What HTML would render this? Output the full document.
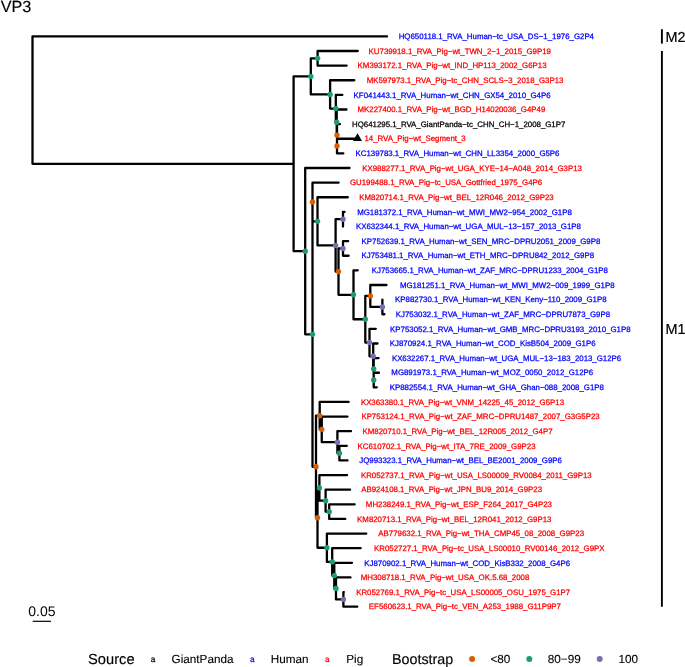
<!DOCTYPE html>
<html lang="en">
<head>
<meta charset="utf-8">
<title>VP3</title>
<style>
html,body{margin:0;padding:0;background:#fff}
svg{display:block}
text{font-family:"Liberation Sans",Arial,Helvetica,sans-serif;text-rendering:geometricPrecision}
.t{font-size:7.865px}
.lt{font-size:14.67px;stroke:#000;stroke-width:0.15px}
.ll{font-size:11.73px;stroke:#000;stroke-width:0.12px}
.k{font-size:8.3px;text-anchor:middle;stroke-width:0.22px}
</style>
</head>
<body>
<svg width="685" height="667" viewBox="0 0 685 667">
<rect width="685" height="667" fill="#fff"/>
<text x="0.7" y="12.05" font-size="16.2" stroke="#000" stroke-width="0.15">VP3</text>
<g fill="none" stroke="#000" stroke-width="2.3" stroke-linejoin="round" stroke-linecap="round">
<path d="M317.60 58.33V51.02H357.80
M317.60 58.33V65.65H346.60
M337.00 146.07V138.76H357.30
M337.00 146.07V153.38H343.30
M337.00 135.11V124.14H339.90
M337.00 135.11V146.07H337.00
M336.70 122.31V109.51H346.50
M336.70 122.31V135.11H337.00
M335.80 108.60V94.89H342.30
M335.80 108.60V122.31H336.70
M330.10 94.44V80.27H354.30
M330.10 94.44V108.60H335.80
M310.80 76.38V58.33H317.60
M310.80 76.38V94.44H330.10
M343.00 219.19V211.88H344.50
M343.00 219.19V226.50H343.00
M343.00 248.43V241.12H348.20
M343.00 248.43V255.75H348.60
M382.40 306.93V299.61H382.40
M382.40 306.93V314.24H384.40
M370.30 295.96V284.99H386.50
M370.30 295.96V306.93H382.40
M373.70 380.04V372.73H379.00
M373.70 380.04V387.35H376.80
M373.70 369.07V358.11H378.60
M373.70 369.07V380.04H373.70
M373.20 356.28V343.48H377.50
M373.20 356.28V369.07H373.70
M369.50 342.57V328.86H375.80
M369.50 342.57V356.28H373.20
M365.30 319.26V295.96H370.30
M365.30 319.26V342.57H369.50
M353.50 294.82V270.37H357.80
M353.50 294.82V319.26H365.30
M338.50 271.62V248.43H343.00
M338.50 271.62V294.82H353.50
M335.60 245.41V219.19H343.00
M335.60 245.41V271.62H338.50
M317.50 221.33V197.25H347.80
M317.50 221.33V245.41H335.60
M312.50 201.98V182.63H338.60
M312.50 201.98V221.33H317.50
M339.40 453.16V445.84H346.80
M339.40 453.16V460.47H347.50
M337.40 442.19V431.22H351.00
M337.40 442.19V453.16H339.40
M321.75 429.39V416.60H347.50
M321.75 429.39V442.19H337.40
M319.70 415.68V401.97H348.60
M319.70 415.68V429.39H321.75
M329.20 511.65V504.34H354.70
M329.20 511.65V518.96H345.30
M325.60 500.68V489.71H350.10
M325.60 500.68V511.65H329.20
M319.40 487.89V475.09H347.10
M319.40 487.89V500.68H325.60
M343.40 599.39V592.07H343.90
M343.40 599.39V606.70H357.30
M336.00 588.42V577.45H350.50
M336.00 588.42V599.39H343.40
M334.30 575.62V562.83H352.00
M334.30 575.62V588.42H336.00
M332.20 561.91V548.20H360.60
M332.20 561.91V575.62H334.30
M326.90 547.75V533.58H366.30
M326.90 547.75V561.91H332.20
M317.50 517.82V487.89H319.40
M317.50 517.82V547.75H326.90
M316.00 466.75V415.68H319.70
M316.00 466.75V517.82H317.50
M312.50 334.37V201.98H312.50
M312.50 334.37V466.75H316.00
M305.20 251.19V168.01H349.50
M305.20 251.19V334.37H312.50
M293.60 163.79V76.38H310.80
M293.60 163.79V251.19H305.20
M32.50 100.09V36.40H387.00
M32.50 100.09V163.79H293.60"/>
</g>
<g>
<circle cx="317.6" cy="58.33" r="2.7" fill="#1B9E77"/>
<circle cx="337" cy="146.07" r="2.7" fill="#D95F02"/>
<circle cx="337" cy="135.11" r="2.7" fill="#D95F02"/>
<circle cx="336.7" cy="122.31" r="2.7" fill="#1B9E77"/>
<circle cx="335.8" cy="108.6" r="2.7" fill="#1B9E77"/>
<circle cx="330.1" cy="94.44" r="2.7" fill="#1B9E77"/>
<circle cx="310.8" cy="76.38" r="2.7" fill="#1B9E77"/>
<circle cx="343" cy="219.19" r="2.7" fill="#7570B3"/>
<circle cx="343" cy="248.43" r="2.7" fill="#7570B3"/>
<circle cx="382.4" cy="306.93" r="2.7" fill="#7570B3"/>
<circle cx="370.3" cy="295.96" r="2.7" fill="#D95F02"/>
<circle cx="373.7" cy="380.04" r="2.7" fill="#1B9E77"/>
<circle cx="373.7" cy="369.07" r="2.7" fill="#1B9E77"/>
<circle cx="373.2" cy="356.28" r="2.7" fill="#7570B3"/>
<circle cx="369.5" cy="342.57" r="2.7" fill="#7570B3"/>
<circle cx="365.3" cy="319.26" r="2.7" fill="#1B9E77"/>
<circle cx="353.5" cy="294.82" r="2.7" fill="#1B9E77"/>
<circle cx="338.5" cy="271.62" r="2.7" fill="#D95F02"/>
<circle cx="335.6" cy="245.41" r="2.7" fill="#7570B3"/>
<circle cx="317.5" cy="221.33" r="2.7" fill="#1B9E77"/>
<circle cx="312.5" cy="201.98" r="2.7" fill="#D95F02"/>
<circle cx="339.4" cy="453.16" r="2.7" fill="#1B9E77"/>
<circle cx="337.4" cy="442.19" r="2.7" fill="#7570B3"/>
<circle cx="321.75" cy="429.39" r="2.7" fill="#D95F02"/>
<circle cx="319.7" cy="415.68" r="2.7" fill="#D95F02"/>
<circle cx="329.2" cy="511.65" r="2.7" fill="#1B9E77"/>
<circle cx="325.6" cy="500.68" r="2.7" fill="#1B9E77"/>
<circle cx="319.4" cy="487.89" r="2.7" fill="#1B9E77"/>
<circle cx="343.4" cy="599.39" r="2.7" fill="#7570B3"/>
<circle cx="336" cy="588.42" r="2.7" fill="#1B9E77"/>
<circle cx="334.3" cy="575.62" r="2.7" fill="#1B9E77"/>
<circle cx="332.2" cy="561.91" r="2.7" fill="#1B9E77"/>
<circle cx="326.9" cy="547.75" r="2.7" fill="#1B9E77"/>
<circle cx="317.5" cy="517.82" r="2.7" fill="#D95F02"/>
<circle cx="316" cy="466.75" r="2.7" fill="#D95F02"/>
<circle cx="312.5" cy="334.37" r="2.7" fill="#1B9E77"/>
<circle cx="305.2" cy="251.19" r="2.7" fill="#1B9E77"/>
</g>
<path d="M357.5 133.26L362 141.11H353Z" fill="#000"/>
<g class="t" stroke-width="0.25">
<text x="398.69" y="39.12" fill="#0000FF" stroke="#0000FF">HQ650118.1_RVA_Human−tc_USA_DS−1_1976_G2P4</text>
<text x="368.6" y="53.74" fill="#FF0000" stroke="#FF0000">KU739918.1_RVA_Pig−wt_TWN_2−1_2015_G9P19</text>
<text x="357.6" y="68.37" fill="#FF0000" stroke="#FF0000">KM393172.1_RVA_Pig−wt_IND_HP113_2002_G6P13</text>
<text x="366.63" y="82.99" fill="#FF0000" stroke="#FF0000">MK597973.1_RVA_Pig−tc_CHN_SCLS−3_2018_G3P13</text>
<text x="353.6" y="97.61" fill="#0000FF" stroke="#0000FF">KF041443.1_RVA_Human−wt_CHN_GX54_2010_G4P6</text>
<text x="357.53" y="112.23" fill="#FF0000" stroke="#FF0000">MK227400.1_RVA_Pig−wt_BGD_H14020036_G4P49</text>
<text x="351.99" y="126.86" fill="#000000" stroke="#000000">HQ641295.1_RVA_GiantPanda−tc_CHN_CH−1_2008_G1P7</text>
<text x="364.41" y="141.48" fill="#FF0000" stroke="#FF0000">14_RVA_Pig−wt_Segment_3</text>
<text x="355.5" y="156.1" fill="#0000FF" stroke="#0000FF">KC139783.1_RVA_Human−wt_CHN_LL3354_2000_G5P6</text>
<text x="362.2" y="170.73" fill="#FF0000" stroke="#FF0000">KX988277.1_RVA_Pig−wt_UGA_KYE−14−A048_2014_G3P13</text>
<text x="349.96" y="185.35" fill="#FF0000" stroke="#FF0000">GU199488.1_RVA_Pig−tc_USA_Gottfried_1975_G4P6</text>
<text x="359.3" y="199.97" fill="#FF0000" stroke="#FF0000">KM820714.1_RVA_Pig−wt_BEL_12R046_2012_G9P23</text>
<text x="357.13" y="214.6" fill="#0000FF" stroke="#0000FF">MG181372.1_RVA_Human−wt_MWI_MW2−954_2002_G1P8</text>
<text x="356" y="229.22" fill="#0000FF" stroke="#0000FF">KX632344.1_RVA_Human−wt_UGA_MUL−13−157_2013_G1P8</text>
<text x="361.6" y="243.84" fill="#0000FF" stroke="#0000FF">KP752639.1_RVA_Human−wt_SEN_MRC−DPRU2051_2009_G9P8</text>
<text x="361.5" y="258.47" fill="#0000FF" stroke="#0000FF">KJ753481.1_RVA_Human−wt_ETH_MRC−DPRU842_2012_G9P8</text>
<text x="371.8" y="273.09" fill="#0000FF" stroke="#0000FF">KJ753665.1_RVA_Human−wt_ZAF_MRC−DPRU1233_2004_G1P8</text>
<text x="399.93" y="287.71" fill="#0000FF" stroke="#0000FF">MG181251.1_RVA_Human−wt_MWI_MW2−009_1999_G1P8</text>
<text x="395.1" y="302.33" fill="#0000FF" stroke="#0000FF">KP882730.1_RVA_Human−wt_KEN_Keny−110_2009_G1P8</text>
<text x="395.8" y="316.96" fill="#0000FF" stroke="#0000FF">KJ753032.1_RVA_Human−wt_ZAF_MRC−DPRU7873_G9P8</text>
<text x="390.1" y="331.58" fill="#0000FF" stroke="#0000FF">KP753052.1_RVA_Human−wt_GMB_MRC−DPRU3193_2010_G1P8</text>
<text x="389.8" y="346.2" fill="#0000FF" stroke="#0000FF">KJ870924.1_RVA_Human−wt_COD_KisB504_2009_G1P6</text>
<text x="391.9" y="360.83" fill="#0000FF" stroke="#0000FF">KX632267.1_RVA_Human−wt_UGA_MUL−13−183_2013_G12P6</text>
<text x="391.33" y="375.45" fill="#0000FF" stroke="#0000FF">MG891973.1_RVA_Human−wt_MOZ_0050_2012_G12P6</text>
<text x="389.7" y="390.07" fill="#0000FF" stroke="#0000FF">KP882554.1_RVA_Human−wt_GHA_Ghan−088_2008_G1P8</text>
<text x="360.9" y="404.69" fill="#FF0000" stroke="#FF0000">KX363380.1_RVA_Pig−wt_VNM_14225_45_2012_G5P13</text>
<text x="361.4" y="419.32" fill="#FF0000" stroke="#FF0000">KP753124.1_RVA_Pig−wt_ZAF_MRC−DPRU1487_2007_G3G5P23</text>
<text x="362.5" y="433.94" fill="#FF0000" stroke="#FF0000">KM820710.1_RVA_Pig−wt_BEL_12R005_2012_G4P7</text>
<text x="357.5" y="448.56" fill="#FF0000" stroke="#FF0000">KC610702.1_RVA_Pig−wt_ITA_7RE_2009_G9P23</text>
<text x="359.24" y="463.19" fill="#0000FF" stroke="#0000FF">JQ993323.1_RVA_Human−wt_BEL_BE2001_2009_G9P6</text>
<text x="360.9" y="477.81" fill="#FF0000" stroke="#FF0000">KR052737.1_RVA_Pig−wt_USA_LS00009_RV0084_2011_G9P13</text>
<text x="361.2" y="492.43" fill="#FF0000" stroke="#FF0000">AB924108.1_RVA_Pig−wt_JPN_BU9_2014_G9P23</text>
<text x="365.83" y="507.06" fill="#FF0000" stroke="#FF0000">MH238249.1_RVA_Pig−wt_ESP_F264_2017_G4P23</text>
<text x="357.1" y="521.68" fill="#FF0000" stroke="#FF0000">KM820713.1_RVA_Pig−wt_BEL_12R041_2012_G9P13</text>
<text x="378.3" y="536.3" fill="#FF0000" stroke="#FF0000">AB779632.1_RVA_Pig−wt_THA_CMP45_08_2008_G9P23</text>
<text x="374" y="550.92" fill="#FF0000" stroke="#FF0000">KR052727.1_RVA_Pig−tc_USA_LS00010_RV00146_2012_G9PX</text>
<text x="364.3" y="565.55" fill="#0000FF" stroke="#0000FF">KJ870902.1_RVA_Human−wt_COD_KisB332_2008_G4P6</text>
<text x="360.73" y="580.17" fill="#FF0000" stroke="#FF0000">MH308718.1_RVA_Pig−wt_USA_OK.5.68_2008</text>
<text x="356.2" y="594.79" fill="#FF0000" stroke="#FF0000">KR052769.1_RVA_Pig−tc_USA_LS00005_OSU_1975_G1P7</text>
<text x="368.87" y="609.42" fill="#FF0000" stroke="#FF0000">EF560623.1_RVA_Pig−tc_VEN_A253_1988_G11P9P7</text>
</g>
<g stroke="#000" stroke-width="1.9">
<line x1="661.9" x2="661.9" y1="29.2" y2="43.6"/>
<line x1="661.9" x2="661.9" y1="51.02" y2="606.7"/>
</g>
<text x="665.6" y="41.8" font-size="14.4" stroke="#000" stroke-width="0.2">M2</text>
<text x="665.6" y="334.26" font-size="14.4" stroke="#000" stroke-width="0.2">M1</text>
<line x1="32.7" x2="51" y1="621.3" y2="621.3" stroke="#000" stroke-width="1.2"/>
<text x="41.85" y="615.7" font-size="14" text-anchor="middle">0.05</text>
<text class="lt" x="88.1" y="663.5">Source</text>
<text class="k" x="153" y="662" fill="#000" stroke="#000">a</text>
<text class="ll" x="171.6" y="662.7">GiantPanda</text>
<text class="k" x="252.2" y="662" fill="#0000FF" stroke="#0000FF">a</text>
<text class="ll" x="270.7" y="662.7">Human</text>
<text class="k" x="327.2" y="662" fill="#FF0000" stroke="#FF0000">a</text>
<text class="ll" x="346.3" y="662.7">Pig</text>
<text class="lt" x="392.0" y="663.5" style="font-size:14.3px">Bootstrap</text>
<circle cx="472.1" cy="658.9" r="3" fill="#D95F02"/>
<text class="ll" x="490.4" y="662.7">&lt;80</text>
<circle cx="529.3" cy="658.9" r="3" fill="#1B9E77"/>
<text class="ll" x="547.8" y="662.7">80−99</text>
<circle cx="599.7" cy="658.9" r="3" fill="#7570B3"/>
<text class="ll" x="618.4" y="662.7">100</text>
</svg>
</body>
</html>
